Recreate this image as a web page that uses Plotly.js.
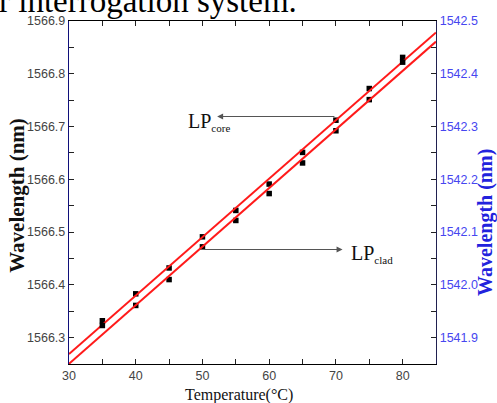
<!DOCTYPE html>
<html>
<head>
<meta charset="utf-8">
<script src="https://cdn.plot.ly/plotly-3.0.1.min.js"></script>
<style>html,body{margin:0;padding:0;background:#fff;}#chart{width:497px;height:403px;}</style>
</head>
<body>
<div id="chart"></div>
<script>
// Data
const temperature = [35, 40, 45, 50, 55, 60, 65, 70, 75, 80];          // °C
const lpCore = [1566.332, 1566.383, 1566.432, 1566.491, 1566.541, 1566.591, 1566.651, 1566.712, 1566.772, 1566.831]; // nm (left axis)
const lpClad = [1541.923, 1541.961, 1542.010, 1542.072, 1542.122, 1542.173, 1542.231, 1542.292, 1542.351, 1542.422]; // nm (right axis)

const xRange = [30, 85];
const yRange = [1566.25, 1566.9];
const y2Range = [1541.85, 1542.5];

function linFit(xs, ys) {
  const n = xs.length;
  const mx = xs.reduce((a, b) => a + b, 0) / n;
  const my = ys.reduce((a, b) => a + b, 0) / n;
  let sxy = 0, sxx = 0;
  for (let i = 0; i < n; i++) { sxy += (xs[i] - mx) * (ys[i] - my); sxx += (xs[i] - mx) ** 2; }
  const m = sxy / sxx;
  return x => my + m * (x - mx);
}
const fCore = linFit(temperature, lpCore);
const fClad = linFit(temperature, lpClad);

const markerStyle = {symbol: 'square', size: 5.5, color: '#000'};
const traces = [
  {x: temperature, y: lpCore, type: 'scatter', mode: 'markers', marker: markerStyle, yaxis: 'y', showlegend: false},
  {x: temperature, y: lpClad, type: 'scatter', mode: 'markers', marker: markerStyle, yaxis: 'y2', showlegend: false},
  {x: xRange, y: xRange.map(fCore), type: 'scatter', mode: 'lines', line: {color: '#ff1a1a', width: 2}, yaxis: 'y', showlegend: false},
  {x: xRange, y: xRange.map(fClad), type: 'scatter', mode: 'lines', line: {color: '#ff1a1a', width: 2}, yaxis: 'y2', showlegend: false}
];

const tickFont = {family: 'Liberation Sans, Arial, sans-serif', size: 12.5, color: '#444'};
const blueTick = {family: 'Liberation Sans, Arial, sans-serif', size: 12.5, color: '#4646f0'};
const serif = 'Liberation Serif, Times New Roman, serif';

const layout = {
  width: 497, height: 403,
  margin: {l: 69, r: 61, t: 21, b: 39},
  paper_bgcolor: '#fff', plot_bgcolor: '#fff',
  showlegend: false,
  xaxis: {
    range: xRange, tick0: 30, dtick: 10, ticks: 'inside', ticklen: 5, tickcolor: '#222', tickwidth: 1,
    minor: {dtick: 5, tick0: 30, ticks: 'inside', ticklen: 5, tickcolor: '#222'},
    showline: true, linecolor: '#000', linewidth: 1.2, mirror: 'ticks',
    showgrid: false, zeroline: false, tickfont: tickFont, automargin: false
  },
  yaxis: {
    range: yRange, tick0: 1566.3, dtick: 0.1, tickformat: '.1f', ticks: 'inside', ticklen: 5, tickcolor: '#222',
    minor: {dtick: 0.05, tick0: 1566.3, ticks: 'inside', ticklen: 5, tickcolor: '#222'},
    showline: true, linecolor: '#10107a', linewidth: 1.2,
    showgrid: false, zeroline: false, tickfont: tickFont, automargin: false
  },
  yaxis2: {
    overlaying: 'y', side: 'right', anchor: 'x',
    range: y2Range, tick0: 1541.9, dtick: 0.1, tickformat: '.1f', ticks: 'inside', ticklen: 5, tickcolor: '#222',
    minor: {dtick: 0.05, tick0: 1541.9, ticks: 'inside', ticklen: 5, tickcolor: '#222'},
    showline: true, linecolor: '#202050', linewidth: 1.2,
    showgrid: false, zeroline: false, tickfont: blueTick, automargin: false
  },
  annotations: [
    {xref: 'paper', yref: 'paper', x: -0.196, y: 1.059, xanchor: 'left', yanchor: 'middle', showarrow: false,
     text: 'r interrogation system.', font: {family: serif, size: 33, color: '#000'}},
    // axis titles
    {xref: 'paper', yref: 'paper', x: 0.462, y: -0.09, xanchor: 'center', yanchor: 'middle', showarrow: false,
     text: 'Temperature(°C)', font: {family: serif, size: 16, color: '#111'}},
    {xref: 'paper', yref: 'paper', x: -0.142, y: 0.493, xanchor: 'center', yanchor: 'middle', showarrow: false, textangle: -90,
     text: 'Wavelength (nm)', font: {family: serif, size: 21, color: '#111', weight: 'bold'}},
    {xref: 'paper', yref: 'paper', x: 1.136, y: 0.414, xanchor: 'center', yanchor: 'middle', showarrow: false, textangle: -90,
     text: 'Wavelength (nm)', font: {family: serif, size: 20, color: '#2222dd', weight: 'bold'}},
    // LP core arrow and label
    {xref: 'x', yref: 'y', x: 52.2, y: 1566.719, axref: 'x', ayref: 'y', ax: 70, ay: 1566.719, text: '',
     showarrow: true, arrowhead: 2, arrowsize: 1, arrowwidth: 1.2, arrowcolor: '#555'},
    {xref: 'x', yref: 'y', x: 47.5, y: 1566.708, xanchor: 'left', yanchor: 'middle', showarrow: false,
     text: 'LP<sub><span style="font-size:11px">core</span></sub>', font: {family: serif, size: 20, color: '#111'}},
    // LP clad arrow and label
    {xref: 'x', yref: 'y', x: 71.0, y: 1566.467, axref: 'x', ayref: 'y', ax: 50.06, ay: 1566.467, text: '',
     showarrow: true, arrowhead: 2, arrowsize: 1, arrowwidth: 1.2, arrowcolor: '#555'},
    {xref: 'x', yref: 'y', x: 71.9, y: 1566.458, xanchor: 'left', yanchor: 'middle', showarrow: false,
     text: 'LP<sub><span style="font-size:11px">clad</span></sub>', font: {family: serif, size: 20, color: '#111'}}
  ]
};

Plotly.newPlot('chart', traces, layout, {staticPlot: true, displayModeBar: false});
</script>
</body>
</html>
